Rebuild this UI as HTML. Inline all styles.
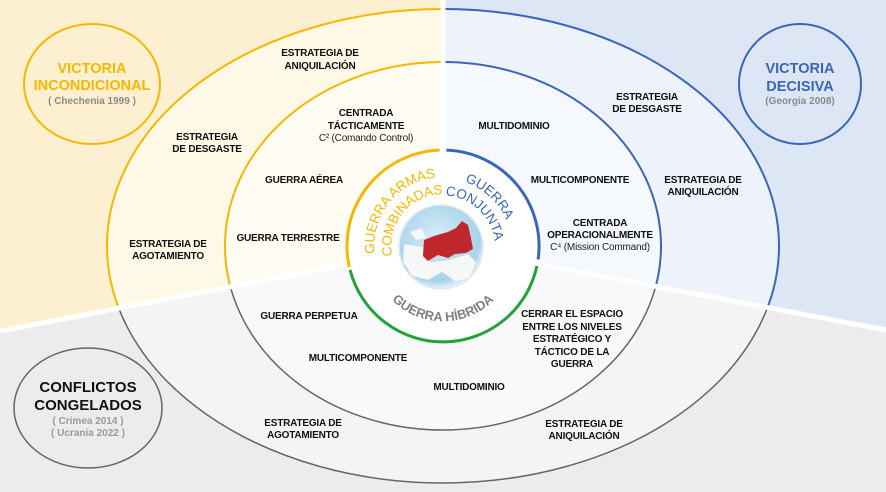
<!DOCTYPE html>
<html><head><meta charset="utf-8"><style>
html,body{margin:0;padding:0;background:#fff;}
svg{display:block;}
text{font-family:"Liberation Sans",sans-serif;}
.l{font-size:10px;font-weight:bold;fill:#111;text-anchor:middle;letter-spacing:-0.2px;}
.r{font-size:10px;fill:#222;text-anchor:middle;letter-spacing:-0.2px;}
</style></head><body>
<svg width="886" height="492" viewBox="0 0 886 492" xmlns="http://www.w3.org/2000/svg">
<defs>
<clipPath id="tl"><polygon points="0,0 443,0 443,246 0,331"/></clipPath>
<clipPath id="tr"><polygon points="443,0 886,0 886,330 443,246"/></clipPath>
<clipPath id="bt"><polygon points="0,331 443,246 886,330 886,492 0,492"/></clipPath>
<radialGradient id="gl" cx="45%" cy="40%" r="60%"><stop offset="0" stop-color="#d6ecf7"/><stop offset="0.85" stop-color="#a9d3ea"/><stop offset="1" stop-color="#e8f2f8"/></radialGradient>
<path id="ya" d="M 384.9 283.0 A 69 69 0 0 1 466.6 181.2" fill="none"/>
<path id="yb" d="M 398.8 273.0 A 52 52 0 0 1 460.8 197.1" fill="none"/>
<path id="ba" d="M 427.3 180.0 A 69 69 0 0 1 511.0 257.2" fill="none"/>
<path id="bb" d="M 432.7 196.2 A 53 53 0 0 1 495.0 253.8" fill="none"/>
<path id="ha" d="M 375.0 273.0 A 72 72 0 0 0 511.0 273.0" fill="none"/>
</defs>
<polygon points="0,0 443,0 443,246 0,331" fill="#fdf0d0"/>
<polygon points="443,0 886,0 886,330 443,246" fill="#dde6f4"/>
<polygon points="0,331 443,246 886,330 886,492 0,492" fill="#ececec"/>
<g clip-path="url(#tl)"><ellipse cx="443" cy="246" rx="336" ry="237" fill="#fef8e6" stroke="#f5b800" stroke-width="2"/><ellipse cx="443" cy="246" rx="218" ry="184" fill="#fffcf3" stroke="#f5b800" stroke-width="2"/></g>
<g clip-path="url(#tr)"><ellipse cx="443" cy="246" rx="336" ry="237" fill="#eef3fb" stroke="#3a66b5" stroke-width="2"/><ellipse cx="443" cy="246" rx="218" ry="184" fill="#f5f8fd" stroke="#3a66b5" stroke-width="2"/></g>
<g clip-path="url(#bt)"><ellipse cx="443" cy="246" rx="336" ry="237" fill="#f4f4f4" stroke="#666" stroke-width="1.5"/><ellipse cx="443" cy="246" rx="218" ry="184" fill="#f9f9f9" stroke="#666" stroke-width="1.5"/></g>
<g stroke="#fff" stroke-width="5"><line x1="443" y1="0" x2="443" y2="246"/><line x1="0" y1="331" x2="443" y2="246"/><line x1="886" y1="330" x2="443" y2="246"/></g>
<circle cx="443" cy="246" r="96" fill="#fff"/>
<path d="M 349.3 266.9 A 96 96 0 0 1 439.6 150.1" fill="none" stroke="#f5b800" stroke-width="3"/>
<path d="M 446.4 150.1 A 96 96 0 0 1 538.1 259.4" fill="none" stroke="#3a66b5" stroke-width="3"/>
<path d="M 536.9 266.0 A 96 96 0 0 1 350.1 270.0" fill="none" stroke="#22a33a" stroke-width="3"/>
<circle cx="441" cy="247" r="42" fill="url(#gl)" stroke="#e0eaf0" stroke-width="1.5"/>
<polygon points="404,244 425,247 430,262 448,260 468,254 476,262 470,278 456,282 442,272 428,280 412,276 403,262" fill="#f6f8f8" stroke="#c8d8e0" stroke-width="0.5"/>
<polygon points="410,232 422,228 426,238 416,240" fill="#f4f7f8"/>
<polygon points="424,240 434,236 448,232 456,228 462,221 468,225 471,238 473,249 466,253 455,254 448,258 438,255 428,261 423,256" fill="#c0272d"/>
<text font-size="13.5" fill="#f5b800"><textPath href="#ya" startOffset="50%" text-anchor="middle">GUERRA ARMAS</textPath></text>
<text font-size="13.5" fill="#f5b800"><textPath href="#yb" startOffset="50%" text-anchor="middle">COMBINADAS</textPath></text>
<text font-size="13.5" fill="#3a66b5"><textPath href="#ba" startOffset="50%" text-anchor="middle">GUERRA</textPath></text>
<text font-size="13.5" fill="#3a66b5"><textPath href="#bb" startOffset="50%" text-anchor="middle">CONJUNTA</textPath></text>
<text font-size="13" fill="#808080" font-weight="bold"><textPath href="#ha" startOffset="50%" text-anchor="middle">GUERRA HÍBRIDA</textPath></text>
<ellipse cx="92" cy="84" rx="68" ry="60" fill="none" stroke="#f5b800" stroke-width="2"/>
<text x="92" y="73" font-size="14.5" font-weight="bold" fill="#f5b800" text-anchor="middle">VICTORIA</text>
<text x="92" y="90" font-size="14.5" font-weight="bold" fill="#f5b800" text-anchor="middle">INCONDICIONAL</text>
<text x="92" y="104" font-size="10" font-weight="bold" fill="#8a8a8a" text-anchor="middle">( Chechenia 1999 )</text>
<ellipse cx="800" cy="84" rx="61" ry="60" fill="none" stroke="#3a66b5" stroke-width="2"/>
<text x="800" y="73" font-size="14.5" font-weight="bold" fill="#3a66b5" text-anchor="middle">VICTORIA</text>
<text x="800" y="91" font-size="14.5" font-weight="bold" fill="#3a66b5" text-anchor="middle">DECISIVA</text>
<text x="800" y="104" font-size="10" font-weight="bold" fill="#8a8a8a" text-anchor="middle">(Georgia 2008)</text>
<ellipse cx="88" cy="408" rx="74" ry="60" fill="none" stroke="#666" stroke-width="1.5"/>
<text x="88" y="392" font-size="15" font-weight="bold" fill="#111" text-anchor="middle">CONFLICTOS</text>
<text x="88" y="410" font-size="15" font-weight="bold" fill="#111" text-anchor="middle">CONGELADOS</text>
<text x="88" y="424" font-size="10" font-weight="bold" fill="#999" text-anchor="middle">( Crimea 2014 )</text>
<text x="88" y="436" font-size="10" font-weight="bold" fill="#999" text-anchor="middle">( Ucrania 2022 )</text>
<text class="l" x="320" y="56">ESTRATEGIA DE</text><text class="l" x="320" y="69">ANIQUILACIÓN</text>
<text class="l" x="207" y="140">ESTRATEGIA</text><text class="l" x="207" y="152">DE DESGASTE</text>
<text class="l" x="168" y="247">ESTRATEGIA DE</text><text class="l" x="168" y="259">AGOTAMIENTO</text>
<text class="l" x="366" y="116">CENTRADA</text><text class="l" x="366" y="129">TÁCTICAMENTE</text><text class="r" x="366" y="141">C² (Comando Control)</text>
<text class="l" x="304" y="183">GUERRA AÉREA</text>
<text class="l" x="288" y="241">GUERRA TERRESTRE</text>
<text class="l" x="647" y="100">ESTRATEGIA</text><text class="l" x="647" y="112">DE DESGASTE</text>
<text class="l" x="514" y="129">MULTIDOMINIO</text>
<text class="l" x="580" y="183">MULTICOMPONENTE</text>
<text class="l" x="703" y="183">ESTRATEGIA DE</text><text class="l" x="703" y="195">ANIQUILACIÓN</text>
<text class="l" x="600" y="226">CENTRADA</text><text class="l" x="600" y="238">OPERACIONALMENTE</text><text class="r" x="600" y="250" font-size="9">C⁴ (Mission Command)</text>
<text class="l" x="309" y="319">GUERRA PERPETUA</text>
<text class="l" x="572" y="317">CERRAR EL ESPACIO</text><text class="l" x="572" y="330">ENTRE LOS NIVELES</text><text class="l" x="572" y="342">ESTRATÉGICO Y</text><text class="l" x="572" y="355">TÁCTICO DE LA</text><text class="l" x="572" y="367">GUERRA</text>
<text class="l" x="358" y="361">MULTICOMPONENTE</text>
<text class="l" x="469" y="390">MULTIDOMINIO</text>
<text class="l" x="303" y="426">ESTRATEGIA DE</text><text class="l" x="303" y="438">AGOTAMIENTO</text>
<text class="l" x="584" y="427">ESTRATEGIA DE</text><text class="l" x="584" y="439">ANIQUILACIÓN</text>
</svg>
</body></html>
